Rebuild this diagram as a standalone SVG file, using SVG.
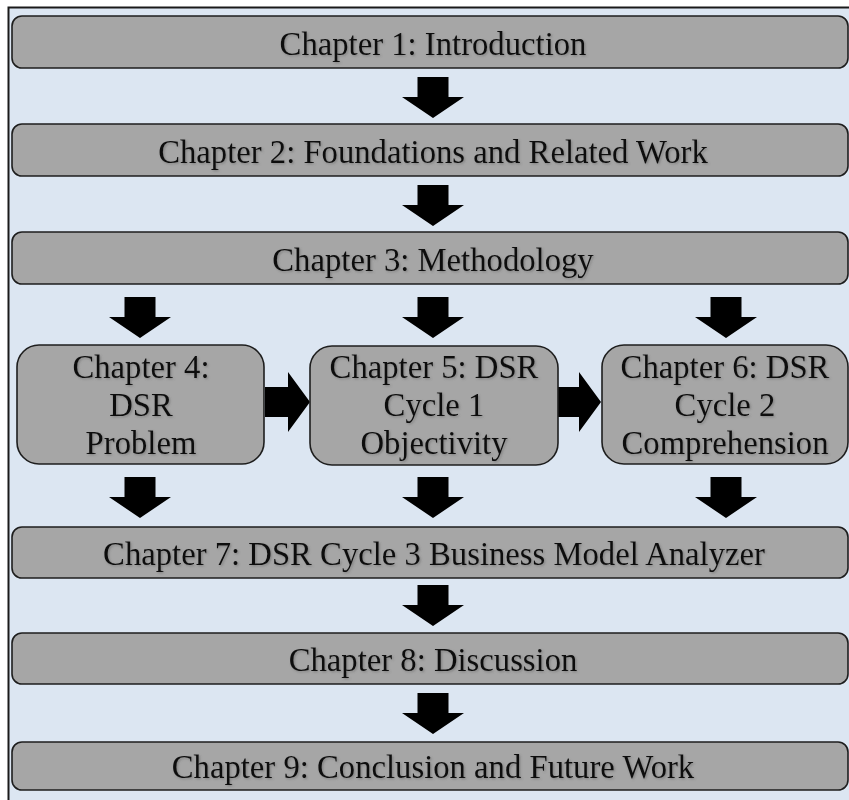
<svg xmlns="http://www.w3.org/2000/svg" width="849" height="800" viewBox="0 0 849 800">
  <style>
    .bar { fill: #a6a6a6; stroke: #1e1e1e; stroke-width: 1.6; }
    .lbl { font-family: "Liberation Serif", "Times New Roman", serif; font-size: 32.7px; fill: #111; text-anchor: middle; filter: url(#soft); }
    .arr { fill: #000; }
  </style>
  <defs>
    <filter id="soft" x="-5%" y="-30%" width="110%" height="160%">
      <feDropShadow dx="1.2" dy="1.2" stdDeviation="0.8" flood-color="#555" flood-opacity="0.45"/>
    </filter>
    <!-- block arrow pointing down, origin at top centre of the shaft -->
    <path id="down" d="M-15.5 0 H15.5 V20 H31 L0 41 L-31 20 H-15.5 Z"/>
  </defs>

  <!-- page background and frame -->
  <rect x="0" y="0" width="849" height="800" fill="#ffffff"/>
  <rect x="8.5" y="7.5" width="850" height="800" fill="#dce6f2" stroke="#1a1a1a" stroke-width="2"/>

  <g id="connectors" class="arr">
    <use href="#down" x="433" y="77"/>
    <use href="#down" x="433" y="185"/>
    <use href="#down" x="140" y="297"/>
    <use href="#down" x="433" y="297"/>
    <use href="#down" x="726" y="297"/>
    <path d="M265 387 H288 V372 L310 402 L288 432 V417 H265 Z"/>
    <path d="M558 387 H579 V372 L601 402 L579 432 V417 H558 Z"/>
    <use href="#down" x="140" y="477"/>
    <use href="#down" x="433" y="477"/>
    <use href="#down" x="726" y="477"/>
    <use href="#down" x="433" y="585"/>
    <use href="#down" x="433" y="693"/>
  </g>

  <g id="ch1">
    <rect class="bar" x="12" y="16" width="836" height="52" rx="10"/>
    <text class="lbl" x="433" y="55">Chapter 1: Introduction</text>
  </g>
  <g id="ch2">
    <rect class="bar" x="12" y="124" width="836" height="52" rx="10"/>
    <text class="lbl" x="433" y="163">Chapter 2: Foundations and Related Work</text>
  </g>
  <g id="ch3">
    <rect class="bar" x="12" y="232" width="836" height="52" rx="10"/>
    <text class="lbl" x="433" y="271">Chapter 3: Methodology</text>
  </g>
  <g id="ch4">
    <rect class="bar" x="17" y="345" width="247" height="119" rx="22"/>
    <text class="lbl" x="141" y="378">Chapter 4:</text>
    <text class="lbl" x="141" y="416">DSR</text>
    <text class="lbl" x="141" y="454">Problem</text>
  </g>
  <g id="ch5">
    <rect class="bar" x="310" y="346" width="248" height="119" rx="22"/>
    <text class="lbl" x="434" y="378">Chapter 5: DSR</text>
    <text class="lbl" x="434" y="416">Cycle 1</text>
    <text class="lbl" x="434" y="454">Objectivity</text>
  </g>
  <g id="ch6">
    <rect class="bar" x="602" y="345" width="246" height="119" rx="22"/>
    <text class="lbl" x="725" y="378">Chapter 6: DSR</text>
    <text class="lbl" x="725" y="416">Cycle 2</text>
    <text class="lbl" x="725" y="454">Comprehension</text>
  </g>
  <g id="ch7">
    <rect class="bar" x="12" y="527" width="836" height="51" rx="10"/>
    <text class="lbl" x="434" y="565">Chapter 7: DSR Cycle 3 Business Model Analyzer</text>
  </g>
  <g id="ch8">
    <rect class="bar" x="12" y="633" width="836" height="51" rx="10"/>
    <text class="lbl" x="433" y="671">Chapter 8: Discussion</text>
  </g>
  <g id="ch9">
    <rect class="bar" x="12" y="742" width="836" height="48" rx="10"/>
    <text class="lbl" x="433" y="778">Chapter 9: Conclusion and Future Work</text>
  </g>
</svg>
